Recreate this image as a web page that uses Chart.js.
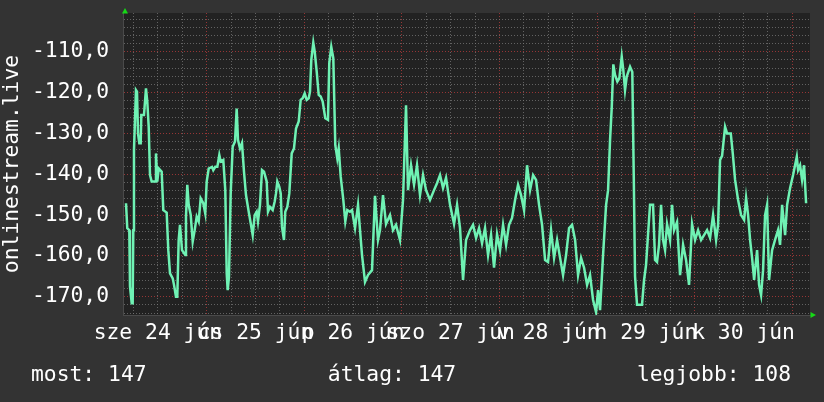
<!DOCTYPE html>
<html><head><meta charset="utf-8">
<script src="https://cdn.jsdelivr.net/npm/chart.js@4/dist/chart.umd.min.js"></script>
<style>html,body{margin:0;padding:0;background:#333333;}canvas{display:block;}</style>
</head><body>
<canvas id="c" width="824" height="402"></canvas>
<script>
// hours since 24 Jun 00:00
const hours = [4.16,4.47,4.97,5.14,5.56,5.80,5.95,6.12,6.61,6.86,7.11,7.43,7.77,7.92,8.58,9.07,9.39,9.74,10.06,10.47,11.29,11.53,11.85,12.20,12.93,13.33,14.16,14.56,14.98,15.64,15.96,16.45,16.77,17.11,17.43,17.93,18.74,18.91,19.23,19.57,20.07,20.56,21.05,21.54,22.03,22.52,23.16,23.65,24.00,24.49,25.30,25.62,26.11,26.61,27.10,27.44,28.08,28.57,28.92,29.16,29.48,29.90,30.39,30.96,31.37,31.69,32.19,32.68,33.17,33.66,34.33,34.82,35.31,35.80,36.29,36.61,37.10,37.60,38.09,38.75,39.07,39.56,40.23,40.72,41.04,41.36,41.85,42.20,42.51,43.00,43.32,43.82,44.31,44.90,45.46,45.96,46.62,47.11,47.60,48.09,48.59,49.08,49.40,49.72,50.21,50.56,51.05,51.54,52.03,52.52,53.16,53.82,54.14,54.63,55.13,55.62,56.11,56.46,56.95,57.59,58.08,58.57,59.23,59.73,60.47,61.21,62.19,62.93,63.66,64.65,65.38,66.12,66.61,67.35,68.09,69.07,69.81,70.55,71.53,72.27,73.01,73.50,74.24,74.98,75.71,76.45,77.19,77.93,78.91,79.90,80.63,81.37,82.11,82.85,83.83,84.82,85.56,86.29,87.03,87.77,88.75,89.49,90.23,90.97,91.70,92.44,93.18,93.92,94.65,95.39,96.13,96.87,97.61,98.34,99.08,99.82,100.56,101.29,102.03,102.77,103.51,104.25,104.98,105.72,106.46,107.20,107.93,108.67,109.41,110.15,110.89,111.62,112.36,113.10,113.84,114.58,115.31,116.05,116.79,117.53,118.26,119.00,119.74,120.23,120.72,121.46,122.20,122.69,123.18,123.60,123.98,124.40,124.97,125.46,126.05,126.44,126.86,127.28,128.09,128.65,129.00,129.32,129.81,130.55,131.04,131.54,132.03,132.52,133.01,133.75,134.24,134.73,135.22,135.72,136.21,136.70,137.19,137.93,138.42,138.91,139.65,140.39,141.13,141.86,142.60,143.34,144.08,144.82,145.56,146.29,147.03,147.77,148.51,149.25,149.74,150.23,150.72,151.46,151.95,152.86,153.35,153.92,154.66,155.40,156.14,156.63,157.12,157.61,158.10,158.60,159.33,159.82,160.31,160.80,161.29,161.79,162.28,163.02,163.75,164.49,164.98,165.48,166.22,166.71,167.45,168.18,169.09,169.41,169.90,170.39,170.88,171.38];
const values = [-147.1,-153.2,-153.7,-167.5,-171.6,-171.6,-153.7,-134.1,-119.4,-119.8,-130,-132.4,-132.4,-125.5,-125.5,-119,-122.2,-128.4,-140.2,-141.8,-141.8,-134.9,-141.8,-138.6,-139.4,-148.8,-149.4,-158.6,-164.3,-165.5,-167.1,-170,-170,-156.1,-152.4,-158.6,-159.8,-150.4,-142.6,-147.5,-150,-156.5,-153.7,-150.4,-151.6,-145.9,-147.1,-149.6,-141.8,-138.6,-138.2,-139,-138.2,-138.2,-135.3,-136.9,-136.5,-143.9,-164.3,-168.4,-165.1,-144.7,-133.3,-132,-123.9,-131.6,-133.7,-132.4,-139.4,-145.1,-149.2,-152,-154.9,-150,-149.2,-151.6,-147.5,-139,-139.4,-141.8,-149.2,-148,-148.8,-146.7,-144.7,-141.8,-143.1,-144.7,-152.9,-156.1,-149.2,-148,-144.7,-134.9,-133.7,-128.8,-127.1,-121.8,-121.4,-120.2,-121.8,-121.4,-119.8,-112,-107.8,-110,-114.9,-120.6,-121,-122.2,-126.3,-126.7,-112.8,-108.8,-111.6,-132.9,-136.1,-133.7,-140.6,-146.3,-151.6,-148.8,-149.2,-148.8,-153.2,-147.5,-159.8,-166.4,-164.7,-163.5,-145.3,-156.1,-153.7,-145.1,-152.2,-150,-153.7,-152.4,-156.1,-146.3,-123.1,-143.9,-137.8,-142.6,-137.8,-145.1,-140.2,-143.9,-146.3,-143.9,-142.2,-140.2,-143.4,-140.9,-147.5,-152.2,-147.5,-153.2,-165.9,-156.1,-153.7,-152.4,-155.6,-153.2,-156.9,-153.2,-159.8,-154.9,-162.9,-154.7,-158.6,-152.4,-157.3,-152.4,-150.7,-146.3,-142.6,-145.1,-148.8,-137.8,-143.9,-140.2,-141.4,-147.5,-152.4,-161,-161.5,-153.7,-160.5,-156.1,-160.5,-164.7,-159.8,-153.2,-152.4,-156.1,-164.7,-160.5,-162.9,-167.1,-164.7,-170.8,-173.8,-168.4,-173.3,-159.8,-147.5,-143.9,-131.6,-123.5,-113.1,-115.7,-117.3,-116.5,-111.2,-114.5,-119.4,-116.1,-113.7,-115,-140,-165,-172,-172,-172,-165.9,-162.2,-154.7,-147.5,-147.5,-161,-161.5,-157.3,-147.5,-156.1,-158.6,-152.2,-156.1,-147.5,-153.7,-151.7,-164.7,-157.3,-161,-167.1,-152.2,-156.1,-153.7,-156.1,-154.9,-153.7,-155.6,-150,-156.1,-152.4,-136.5,-135.5,-128.4,-130,-130,-134.9,-141.4,-146.3,-150,-151.2,-145.8,-150,-156.1,-160.5,-165.9,-158.6,-167.1,-169.6,-163.5,-150,-147.5,-165.9,-158.6,-156.1,-153.7,-157.3,-147.5,-154.9,-147.5,-143.4,-140.2,-135.7,-139,-137.8,-141.4,-137.8,-147.1];
const dayLabels = ["sze 24 jún","cs 25 jún","p 26 jún","szo 27 jún","v 28 jún","h 29 jún","k 30 jún"];
const dayLabelHours = [12,36,60,84,108,132,156];
const xGridHours = [6,12,18,24,30,36,42,48,54,60,66,72,78,84,90,96,102,108,114,120,126,132,138,144,150,156,162,168];
const yGridValues = [-174,-172,-170,-168,-166,-164,-162,-160,-158,-156,-154,-152,-150,-148,-146,-144,-142,-140,-138,-136,-134,-132,-130,-128,-126,-124,-122,-120,-118,-116,-114,-112,-110,-108,-106,-104,-102];
const yLabelValues = [-170,-160,-150,-140,-130,-120,-110];
const xRange = [3.42, 172.34];
const yRange = [-174.48, -100.52];
const yTitle = "onlinestream.live";
const legendNames = ["most", "átlag", "legjobb"];
const legendValues = ["147", "147", "108"];

const FONT = {family: '"DejaVu Sans Mono", monospace', size: 21.33};
const GRAY = 'rgba(120,120,120,0.75)';
const RED = 'rgba(190,60,60,0.75)';

const deco = {
  id: 'deco',
  beforeDraw(chart) {
    const {ctx, chartArea: a} = chart;
    ctx.save();
    ctx.fillStyle = '#333333';
    ctx.fillRect(0, 0, chart.width, chart.height);
    ctx.fillStyle = '#222222';
    ctx.fillRect(a.left, a.top, a.right - a.left, a.bottom - a.top);
    ctx.restore();
  },
  afterDraw(chart) {
    const {ctx, chartArea: a} = chart;
    ctx.save();
    ctx.fillStyle = '#16d916';
    ctx.beginPath();
    ctx.moveTo(a.left + 2, a.top - 5);
    ctx.lineTo(a.left - 1, a.top + 0.5);
    ctx.lineTo(a.left + 5, a.top + 0.5);
    ctx.closePath(); ctx.fill();
    ctx.beginPath();
    ctx.moveTo(a.right + 6, a.bottom);
    ctx.lineTo(a.right + 0.5, a.bottom - 3);
    ctx.lineTo(a.right + 0.5, a.bottom + 3);
    ctx.closePath(); ctx.fill();
    ctx.font = FONT.size + 'px ' + FONT.family;
    ctx.fillStyle = '#ffffff';
    ctx.textBaseline = 'alphabetic';
    const texts = legendNames.map((n, i) => n + ': ' + legendValues[i]);
    ctx.textAlign = 'left'; ctx.fillText(texts[0], 31, 381);
    ctx.textAlign = 'center'; ctx.fillText(texts[1], 392, 381);
    ctx.textAlign = 'right'; ctx.fillText(texts[2], 791, 381);
    ctx.restore();
  }
};

new Chart(document.getElementById('c'), {
  type: 'line',
  data: {
    datasets: [{
      data: hours.map((h, i) => ({x: h, y: values[i]})),
      borderColor: '#6ff2b4',
      borderWidth: 2.5,
      pointRadius: 0,
      tension: 0,
      fill: false
    }]
  },
  options: {
    responsive: false,
    animation: false,
    devicePixelRatio: 1,
    layout: {padding: {left: 0, top: 13, right: 14, bottom: 0}},
    plugins: {legend: {display: false}, tooltip: {enabled: false}},
    scales: {
      x: {
        type: 'linear',
        min: xRange[0], max: xRange[1],
        afterBuildTicks: s => { s.ticks = xGridHours.map(v => ({value: v})); },
        afterFit: s => { s.height = 87; s.paddingLeft = 0; s.paddingRight = 0; },
        grid: {color: c => (c.tick && c.tick.value % 24 === 0) ? RED : GRAY, lineWidth: 1, drawTicks: false},
        border: {display: true, color: '#4a4a4a', dash: [1, 2]},
        ticks: {
          autoSkip: false, maxRotation: 0, minRotation: 0, padding: 6,
          color: '#ffffff', font: FONT,
          callback: v => { const i = dayLabelHours.indexOf(v); return i >= 0 ? dayLabels[i] : ''; }
        }
      },
      y: {
        min: yRange[0], max: yRange[1],
        afterBuildTicks: s => { s.ticks = yGridValues.map(v => ({value: v})); },
        afterFit: s => { s.width = 123; s.paddingTop = 0; s.paddingBottom = 0; },
        grid: {color: c => (c.tick && c.tick.value % 10 === 0) ? RED : GRAY, lineWidth: 1, drawTicks: false},
        border: {display: true, color: '#4a4a4a', dash: [1, 2]},
        title: {display: true, text: yTitle, color: '#ffffff', font: FONT, padding: 0},
        ticks: {
          autoSkip: false, padding: 14, color: '#ffffff', font: FONT,
          callback: v => yLabelValues.includes(v) ? v.toFixed(1).replace('.', ',') : ''
        }
      }
    }
  },
  plugins: [deco]
});
</script>
</body></html>
